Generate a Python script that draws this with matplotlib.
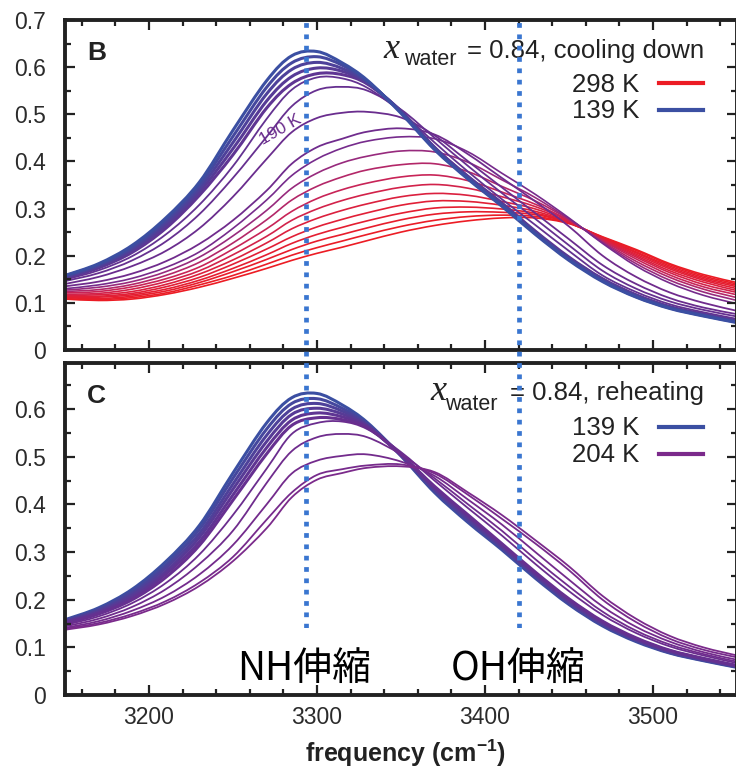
import matplotlib.pyplot as plt
from matplotlib.colors import LinearSegmentedColormap, Normalize
from matplotlib.ticker import MultipleLocator, FuncFormatter
from matplotlib.path import Path
from matplotlib.patches import PathPatch

plt.rcParams['font.family'] = ['Liberation Sans', 'DejaVu Sans']
plt.rcParams['mathtext.fontset'] = 'custom'
plt.rcParams['mathtext.rm'] = 'Liberation Sans'
plt.rcParams['mathtext.bf'] = 'Liberation Sans:bold'

freq = [3150, 3170, 3190, 3210, 3230, 3250, 3270, 3285, 3300, 3315, 3330,
        3350, 3370, 3390, 3410, 3430, 3450, 3470, 3490, 3510, 3530, 3550]

# 139 K spectrum (start of reheating = end of cooling)
spec_139 = [0.158, 0.183, 0.222, 0.280, 0.356, 0.466, 0.571, 0.624, 0.633, 0.609, 0.572,
            0.502, 0.425, 0.362, 0.305, 0.245, 0.190, 0.145, 0.112, 0.088, 0.072, 0.058]

# panel B, cooling down: low-T bundle
cool_blue_T = [150, 160, 170, 178]
cool_blue = [
    [0.157, 0.181, 0.218, 0.275, 0.349, 0.453, 0.557, 0.609, 0.622, 0.604, 0.570,
     0.504, 0.426, 0.364, 0.307, 0.247, 0.192, 0.147, 0.113, 0.089, 0.073, 0.059],
    [0.155, 0.179, 0.215, 0.270, 0.342, 0.440, 0.543, 0.595, 0.610, 0.597, 0.568,
     0.505, 0.428, 0.365, 0.309, 0.249, 0.194, 0.148, 0.115, 0.090, 0.074, 0.060],
    [0.154, 0.176, 0.211, 0.264, 0.335, 0.427, 0.528, 0.580, 0.598, 0.591, 0.566,
     0.506, 0.429, 0.367, 0.310, 0.250, 0.195, 0.150, 0.116, 0.091, 0.075, 0.061],
    [0.152, 0.174, 0.207, 0.258, 0.328, 0.414, 0.513, 0.565, 0.586, 0.584, 0.564,
     0.507, 0.430, 0.368, 0.312, 0.252, 0.197, 0.151, 0.117, 0.092, 0.076, 0.062],
]
# panel B: separated curves around the transition (190 K is the third)
cool_mid_T = [183, 186, 190, 195]
cool_mid = [
    [0.149, 0.169, 0.199, 0.245, 0.308, 0.390, 0.490, 0.552, 0.578, 0.576, 0.556,
     0.505, 0.440, 0.378, 0.320, 0.265, 0.210, 0.158, 0.123, 0.097, 0.080, 0.066],
    [0.146, 0.163, 0.190, 0.230, 0.288, 0.365, 0.452, 0.517, 0.551, 0.558, 0.550,
     0.510, 0.450, 0.390, 0.333, 0.278, 0.222, 0.168, 0.130, 0.103, 0.085, 0.071],
    [0.140, 0.155, 0.178, 0.210, 0.258, 0.325, 0.405, 0.462, 0.492, 0.503, 0.505,
     0.493, 0.455, 0.400, 0.345, 0.290, 0.235, 0.180, 0.140, 0.110, 0.090, 0.076],
    [0.135, 0.145, 0.162, 0.188, 0.225, 0.275, 0.338, 0.395, 0.430, 0.448, 0.463,
     0.470, 0.457, 0.415, 0.365, 0.315, 0.262, 0.200, 0.155, 0.122, 0.100, 0.083],
]
# panel B: high-T bundle, 200 K ... 298 K
cool_red_T = [200, 210, 220, 230, 240, 250, 260, 270, 280, 290, 298]
cool_red = [
    [0.130, 0.138, 0.152, 0.175, 0.208, 0.258, 0.318, 0.370, 0.405, 0.428, 0.443,
     0.452, 0.448, 0.420, 0.375, 0.330, 0.280, 0.226, 0.178, 0.142, 0.116, 0.098],
    [0.127, 0.133, 0.145, 0.166, 0.197, 0.242, 0.296, 0.343, 0.375, 0.397, 0.411,
     0.422, 0.420, 0.398, 0.361, 0.323, 0.278, 0.228, 0.183, 0.148, 0.123, 0.105],
    [0.124, 0.128, 0.139, 0.158, 0.186, 0.227, 0.276, 0.318, 0.347, 0.367, 0.382,
     0.393, 0.395, 0.378, 0.347, 0.316, 0.277, 0.230, 0.188, 0.154, 0.129, 0.111],
    [0.121, 0.124, 0.134, 0.151, 0.176, 0.214, 0.257, 0.294, 0.321, 0.340, 0.354,
     0.367, 0.371, 0.359, 0.335, 0.309, 0.275, 0.232, 0.193, 0.159, 0.134, 0.117],
    [0.118, 0.120, 0.129, 0.145, 0.168, 0.202, 0.241, 0.275, 0.299, 0.317, 0.331,
     0.345, 0.351, 0.343, 0.325, 0.304, 0.274, 0.233, 0.197, 0.164, 0.139, 0.122],
    [0.116, 0.117, 0.124, 0.139, 0.161, 0.191, 0.227, 0.257, 0.279, 0.296, 0.310,
     0.325, 0.332, 0.328, 0.315, 0.299, 0.272, 0.235, 0.200, 0.168, 0.144, 0.126],
    [0.114, 0.114, 0.120, 0.134, 0.154, 0.182, 0.214, 0.240, 0.261, 0.277, 0.291,
     0.307, 0.316, 0.315, 0.307, 0.294, 0.271, 0.236, 0.203, 0.172, 0.148, 0.130],
    [0.112, 0.112, 0.117, 0.129, 0.148, 0.173, 0.202, 0.226, 0.245, 0.260, 0.274,
     0.290, 0.301, 0.303, 0.299, 0.290, 0.270, 0.237, 0.206, 0.175, 0.151, 0.134],
    [0.111, 0.109, 0.114, 0.125, 0.143, 0.166, 0.192, 0.213, 0.231, 0.245, 0.259,
     0.276, 0.288, 0.293, 0.292, 0.287, 0.270, 0.238, 0.208, 0.178, 0.154, 0.137],
    [0.109, 0.107, 0.111, 0.121, 0.138, 0.158, 0.182, 0.201, 0.217, 0.231, 0.245,
     0.262, 0.275, 0.283, 0.286, 0.283, 0.269, 0.239, 0.211, 0.181, 0.157, 0.140],
    [0.108, 0.105, 0.108, 0.118, 0.133, 0.152, 0.173, 0.190, 0.205, 0.218, 0.232,
     0.250, 0.264, 0.274, 0.280, 0.280, 0.268, 0.240, 0.213, 0.183, 0.160, 0.143],
]

# panel C, reheating: low-T bundle
heat_blue_T = [150, 160, 170, 178, 185]
heat_blue = [
    [0.156, 0.180, 0.218, 0.273, 0.348, 0.455, 0.558, 0.612, 0.622, 0.602, 0.569,
     0.503, 0.428, 0.365, 0.308, 0.248, 0.192, 0.147, 0.114, 0.089, 0.073, 0.059],
    [0.155, 0.178, 0.213, 0.267, 0.339, 0.443, 0.545, 0.600, 0.612, 0.596, 0.567,
     0.503, 0.430, 0.368, 0.310, 0.250, 0.195, 0.149, 0.115, 0.090, 0.074, 0.060],
    [0.153, 0.175, 0.209, 0.260, 0.331, 0.432, 0.532, 0.589, 0.602, 0.590, 0.565,
     0.504, 0.433, 0.372, 0.313, 0.253, 0.197, 0.151, 0.117, 0.092, 0.075, 0.060],
    [0.152, 0.173, 0.204, 0.254, 0.322, 0.420, 0.519, 0.577, 0.592, 0.584, 0.563,
     0.504, 0.435, 0.375, 0.315, 0.255, 0.200, 0.153, 0.118, 0.093, 0.076, 0.061],
    [0.150, 0.170, 0.200, 0.247, 0.314, 0.409, 0.506, 0.566, 0.582, 0.578, 0.561,
     0.505, 0.438, 0.378, 0.318, 0.258, 0.202, 0.155, 0.120, 0.094, 0.077, 0.062],
]
# panel C: separated curves up to 204 K
heat_mid_T = [190, 194, 198, 201, 204]
heat_mid = [
    [0.147, 0.165, 0.193, 0.235, 0.295, 0.378, 0.475, 0.548, 0.571, 0.574, 0.558,
     0.510, 0.450, 0.392, 0.335, 0.275, 0.218, 0.168, 0.130, 0.102, 0.083, 0.067],
    [0.144, 0.160, 0.185, 0.222, 0.275, 0.345, 0.445, 0.512, 0.541, 0.548, 0.541,
     0.505, 0.455, 0.400, 0.345, 0.285, 0.228, 0.175, 0.135, 0.106, 0.086, 0.070],
    [0.141, 0.155, 0.177, 0.208, 0.253, 0.315, 0.400, 0.465, 0.492, 0.502, 0.505,
     0.490, 0.460, 0.410, 0.358, 0.300, 0.242, 0.186, 0.143, 0.112, 0.090, 0.074],
    [0.139, 0.151, 0.170, 0.197, 0.236, 0.290, 0.368, 0.425, 0.462, 0.474, 0.482,
     0.484, 0.465, 0.420, 0.370, 0.318, 0.262, 0.200, 0.153, 0.118, 0.095, 0.079],
    [0.137, 0.148, 0.166, 0.192, 0.229, 0.281, 0.350, 0.415, 0.452, 0.466, 0.477,
     0.480, 0.468, 0.425, 0.378, 0.325, 0.270, 0.208, 0.160, 0.124, 0.100, 0.083],
]

band_pos = [3293.5, 3420]          # NH / OH stretch markers
band_names = ['NH伸縮', 'OH伸縮']

# temperature colour scale: blue (139 K) -> purple (~200 K) -> red (298 K)
T_lo, T_hi = 139, 298
color_nodes = [(139, '#3b4fa2'), (190, '#6a2d8e'), (204, '#7b2a8b'),
               (212, '#a02a78'), (228, '#c62459'), (255, '#e01f38'), (298, '#ec1c24')]
cmap = LinearSegmentedColormap.from_list(
    'temp', [((t - T_lo) / (T_hi - T_lo), c) for t, c in color_nodes])
norm = Normalize(T_lo, T_hi)
ink = '#222222'


def draw_spectrum(ax, y, T, lw):
    # smooth Bezier line through the read points (Catmull-Rom tangents)
    x = freq
    n = len(x)
    verts = [(x[0], y[0])]
    codes = [Path.MOVETO]
    for i in range(n - 1):
        xa, ya = (x[i - 1], y[i - 1]) if i > 0 else (x[i], y[i])
        xb, yb = (x[i + 2], y[i + 2]) if i < n - 2 else (x[i + 1], y[i + 1])
        verts.append((x[i] + (x[i + 1] - xa) / 6, y[i] + (y[i + 1] - ya) / 6))
        verts.append((x[i + 1] - (xb - x[i]) / 6, y[i + 1] - (yb - y[i]) / 6))
        verts.append((x[i + 1], y[i + 1]))
        codes += [Path.CURVE4] * 3
    ax.add_patch(PathPatch(Path(verts, codes), facecolor='none',
                           edgecolor=cmap(norm(T)), lw=lw, capstyle='butt'))


fig = plt.figure(figsize=(7.36, 7.7), dpi=100)
ax1 = fig.add_axes([0.0883, 0.5455, 0.913, 0.4286])
ax2 = fig.add_axes([0.0883, 0.0974, 0.913, 0.4312])

# cooling: drawn from 298 K down to 139 K
for T, s in zip(cool_red_T[::-1], cool_red[::-1]):
    draw_spectrum(ax1, s, T, 1.2)
for T, s in zip(cool_mid_T[::-1], cool_mid[::-1]):
    draw_spectrum(ax1, s, T, 1.3)
for T, s in zip(cool_blue_T[::-1], cool_blue[::-1]):
    draw_spectrum(ax1, s, T, 2.2)
draw_spectrum(ax1, spec_139, 139, 2.2)

# reheating: drawn from 139 K up to 204 K
draw_spectrum(ax2, spec_139, 139, 2.2)
for T, s in zip(heat_blue_T, heat_blue):
    draw_spectrum(ax2, s, T, 2.2)
for T, s in zip(heat_mid_T, heat_mid):
    draw_spectrum(ax2, s, T, 1.3)

ax1.text(3278, 0.468, '190 K', rotation=30, color='#6a2c8c', fontsize=12.5,
         ha='center', va='center', rotation_mode='anchor')

for ax, top in [(ax1, 0.7), (ax2, 0.697)]:
    ax.set_xlim(3150, 3550)
    ax.set_ylim(0, top)
    ax.xaxis.set_major_locator(MultipleLocator(100))
    ax.xaxis.set_minor_locator(MultipleLocator(20))
    ax.yaxis.set_major_locator(MultipleLocator(0.1))
    ax.yaxis.set_minor_locator(MultipleLocator(0.05))
    ax.yaxis.set_major_formatter(FuncFormatter(lambda v, p: f'{v:g}'))
    ax.tick_params(which='both', direction='in', top=True, right=True,
                   width=1.6, color=ink, labelcolor='#2b2b2b', labelsize=16.5)
    ax.tick_params(which='major', length=7)
    ax.tick_params(which='minor', length=4)
    ax.tick_params(axis='y', pad=14)
    ax.tick_params(axis='x', pad=8)
    for sp in ax.spines.values():
        sp.set_linewidth(2.8)
        sp.set_color(ink)

ax1.tick_params(axis='x', labelbottom=False)
ax2.set_yticks([0, 0.1, 0.2, 0.3, 0.4, 0.5, 0.6])
ax2.yaxis.set_minor_locator(MultipleLocator(0.05))

# panel letters
ax1.text(0.033, 0.879, 'B', transform=ax1.transAxes, fontsize=19, fontweight='bold', color=ink)
ax2.text(0.033, 0.880, 'C', transform=ax2.transAxes, fontsize=19, fontweight='bold', color=ink)

# titles: italic x, subscript "water", then the rest
titles = [(ax1, '= 0.84, cooling down', 0.474, 0.505, 0.885, 0.864),
          (ax2, '= 0.84, reheating', 0.544, 0.566, 0.889, 0.858)]
for ax, rest, x_x, x_sub, y_base, y_sub in titles:
    ax.text(0.951, y_base, rest, transform=ax.transAxes, ha='right', va='baseline',
            fontsize=18.5, color=ink)
    ax.text(x_x, y_base, 'x', transform=ax.transAxes, ha='left', va='baseline',
            fontsize=26, color=ink, family='Liberation Serif', style='italic')
    ax.text(x_sub, y_sub, 'water', transform=ax.transAxes, ha='left', va='baseline',
            fontsize=15.5, color=ink)

legend_cool = [('298 K', 298, 0.782, 0.809), ('139 K', 139, 0.703, 0.727)]
legend_heat = [('139 K', 139, 0.783, 0.807), ('204 K', 204, 0.702, 0.726)]
for ax, entries in [(ax1, legend_cool), (ax2, legend_heat)]:
    for lab, T, yt, yl in entries:
        ax.text(0.855, yt, lab, transform=ax.transAxes, ha='right', va='baseline',
                fontsize=18.5, color=ink)
        ax.plot([0.884, 0.949], [yl, yl], transform=ax.transAxes,
                color=cmap(norm(T)), lw=3)

for xpos, name in zip([0.256, 0.574], band_names):
    ax2.text(xpos, 0.045, name, transform=ax2.transAxes, ha='left', va='baseline',
             fontsize=28, color='black', family=['Noto Sans CJK JP', 'DejaVu Sans'])

fig.text(0.551, 0.0104, r'frequency (cm$^{\mathbf{-1}}$)', ha='center', va='baseline',
         fontsize=18, fontweight='bold', color=ink)

# dotted markers crossing both panels
ov = fig.add_axes([0.0883, 0.184, 0.913, 0.793], facecolor='none')
ov.set_xlim(3150, 3550)
ov.set_ylim(0, 1)
ov.axis('off')
for xv in band_pos:
    ov.axvline(xv, color='#3a76d0', lw=3.4, dashes=(1, 1.4))

fig.savefig('out.png', dpi=100)
